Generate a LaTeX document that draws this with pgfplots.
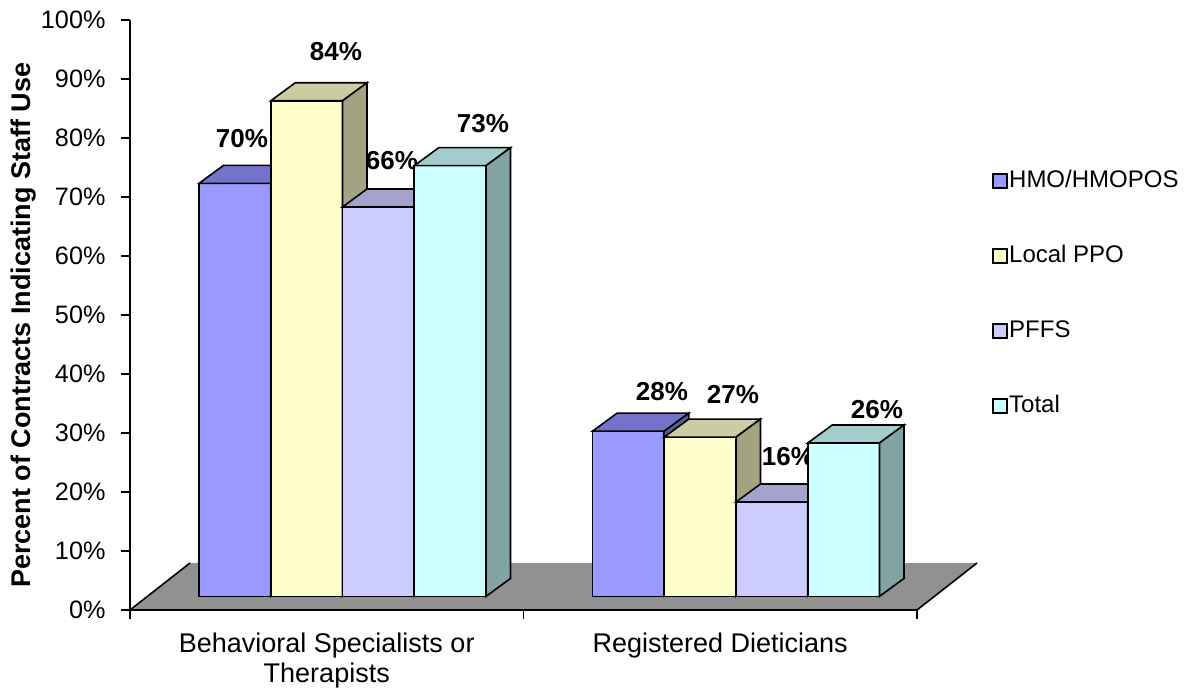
\documentclass[border=0pt]{standalone}
\usepackage{fontspec}
\setmainfont{Liberation Sans}
\usepackage{pgfplots}
\pgfplotsset{compat=1.18}
\usepackage{pgfplotstable}

\definecolor{hmoF}{HTML}{9999FF}\definecolor{hmoT}{HTML}{7373CC}\definecolor{hmoS}{HTML}{5C5CA3}
\definecolor{ppoF}{HTML}{FFFFCC}\definecolor{ppoT}{HTML}{CCCCA3}\definecolor{ppoS}{HTML}{A3A382}
\definecolor{pffsF}{HTML}{CCCCFF}\definecolor{pffsT}{HTML}{A3A3CC}\definecolor{pffsS}{HTML}{8282A3}
\definecolor{totF}{HTML}{CCFFFF}\definecolor{totT}{HTML}{A3CCCC}\definecolor{totS}{HTML}{82A3A3}
\definecolor{floorgray}{HTML}{919191}

% one table per series: category position, value (%), label position (axis units)
\pgfplotstableread{
cat v lx ly
0.5 70 0.2846 79.83
1.5 28 1.3520 36.95
}\hmo
\pgfplotstableread{
cat v lx ly
0.5 84 0.5235 94.58
1.5 27 1.5324 36.44
}\ppo
\pgfplotstableread{
cat v lx ly
0.5 66 0.6658 76.10
1.5 16 1.6722 25.93
}\pffs
\pgfplotstableread{
cat v lx ly
0.5 73 0.8971 82.37
1.5 26 1.8983 33.90
}\total

% 3-D bar drawn at each data point (front, top and side faces); height \barh
\newcommand\defbarmark[5]{%
\pgfdeclareplotmark{#1}{%
 \pgfsetlinewidth{0.8pt}\pgfsetstrokecolor{black}%
 \pgfsetfillcolor{#3}%
 \pgfpathrectangle{\pgfpoint{#2}{\dimexpr 6.8pt-\barh\relax}}{\pgfpoint{35.875pt}{\barh}}%
 \pgfusepath{fill,stroke}%
 \pgfsetfillcolor{#4}%
 \pgfpathmoveto{\pgfpoint{#2}{6.8pt}}%
 \pgfpathlineto{\pgfpoint{\dimexpr #2+12.25pt\relax}{15.8pt}}%
 \pgfpathlineto{\pgfpoint{\dimexpr #2+48.125pt\relax}{15.8pt}}%
 \pgfpathlineto{\pgfpoint{\dimexpr #2+35.875pt\relax}{6.8pt}}%
 \pgfpathclose
 \pgfusepath{fill,stroke}%
 \pgfsetfillcolor{#5}%
 \pgfpathmoveto{\pgfpoint{\dimexpr #2+35.875pt\relax}{6.8pt}}%
 \pgfpathlineto{\pgfpoint{\dimexpr #2+48.125pt\relax}{15.8pt}}%
 \pgfpathlineto{\pgfpoint{\dimexpr #2+48.125pt\relax}{\dimexpr 15.8pt-\barh\relax}}%
 \pgfpathlineto{\pgfpoint{\dimexpr #2+35.875pt\relax}{\dimexpr 6.8pt-\barh\relax}}%
 \pgfpathclose
 \pgfusepath{fill,stroke}%
}}
\defbarmark{barA}{-63.875pt}{hmoF}{hmoT}{hmoS}
\defbarmark{barB}{-28pt}{ppoF}{ppoT}{ppoS}
\defbarmark{barC}{7.875pt}{pffsF}{pffsT}{pffsS}
\defbarmark{barD}{43.75pt}{totF}{totT}{totS}
\def\barh{0pt}

\pgfplotsset{
 bar3d/.style={scatter, only marks, mark=#1, forget plot,
  point meta=explicit,
  scatter/@pre marker code/.code={%
    \begingroup
    \pgfkeys{/pgf/fpu=true,/pgf/fpu/output format=fixed}%
    \pgfmathparse{\pgfplotspointmeta*2.95}%
    \xdef\barh{\pgfmathresult pt}%
    \endgroup},
  scatter/@post marker code/.code={},
 },
 lab3d/.style={forget plot, draw=none, mark=none,
  point meta=explicit symbolic,
  nodes near coords={\pgfplotspointmeta\%},
  every node near coord/.style={font=\bfseries\fontsize{13}{15}\selectfont,
    anchor=center, text=black, inner sep=0pt},
 },
}

\begin{document}
\begin{tikzpicture}
\path[use as bounding box] (0pt,0pt) rectangle (594.5pt,348pt);
\begin{axis}[
 at={(65pt,43pt)}, anchor=south west,
 scale only axis, width=393.5pt, height=295pt,
 xmin=0, xmax=2, ymin=0, ymax=100,
 clip=false,
 axis x line*=bottom, axis y line*=left,
 axis line style={-, line width=0.8pt},
 tick align=outside, major tick length=4.75pt,
 tick style={black, line width=0.8pt},
 ytick={0,10,...,100},
 yticklabel={\pgfmathprintnumber{\tick}\%},
 /pgf/number format/assume math mode=true,
 yticklabel style={font=\fontsize{12.6}{14}\selectfont, anchor=east, xshift=-4pt},
 xtick={0,1,2}, xticklabels={,,},
 extra x ticks={0.5,1.5},
 extra x tick labels={{Behavioral Specialists or\\Therapists},{Registered Dieticians}},
 extra x tick style={major tick length=0pt, tick style={draw=none}},
 xticklabel style={align=center, font=\fontsize{13.5}{15}\selectfont, yshift=-8pt},
 ylabel={Percent of Contracts Indicating Staff Use},
 ylabel style={at={(axis description cs:-0.1347,0.483)}, anchor=center, font=\bfseries\fontsize{13.5}{15}\selectfont},
 legend cell align=left,
 legend style={draw=none, fill=none, at={(1.095,0.7495)}, anchor=north west,
   inner xsep=0pt, inner ysep=0pt, row sep=24.5pt,
   nodes={inner sep=0.5pt, text height=9pt, text depth=3pt},
   font=\fontsize{12}{14}\selectfont},
]
\fill[floorgray] (axis cs:0,0) -- (axis cs:2,0) -- ([shift={(30pt,23.5pt)}]axis cs:2,0) -- ([shift={(30pt,23.5pt)}]axis cs:0,0) -- cycle;
\draw[line width=0.8pt] (axis cs:0,0) -- ++(30pt,23.5pt);
\draw[line width=0.8pt] (axis cs:2,0) -- ++(30pt,23.5pt);
\draw[line width=0.8pt] (axis cs:0,0) -- (axis cs:2,0);

\addplot[bar3d=barA] table[x=cat,y=v,meta=v]{\hmo};
\addplot[lab3d] table[x=lx,y=ly,meta=v]{\hmo};
\addplot[bar3d=barB] table[x=cat,y=v,meta=v]{\ppo};
\addplot[lab3d] table[x=lx,y=ly,meta=v]{\ppo};
\addplot[bar3d=barC] table[x=cat,y=v,meta=v]{\pffs};
\addplot[lab3d] table[x=lx,y=ly,meta=v]{\pffs};
\addplot[bar3d=barD] table[x=cat,y=v,meta=v]{\total};
\addplot[lab3d] table[x=lx,y=ly,meta=v]{\total};

\addlegendimage{legend image code/.code={\draw[fill=hmoF,line width=1pt] (0pt,-3.5pt) rectangle (7pt,3.5pt);}}
\addlegendentry{HMO/HMOPOS}
\addlegendimage{legend image code/.code={\draw[fill=ppoF,line width=1pt] (0pt,-3.5pt) rectangle (7pt,3.5pt);}}
\addlegendentry{Local PPO}
\addlegendimage{legend image code/.code={\draw[fill=pffsF,line width=1pt] (0pt,-3.5pt) rectangle (7pt,3.5pt);}}
\addlegendentry{PFFS}
\addlegendimage{legend image code/.code={\draw[fill=totF,line width=1pt] (0pt,-3.5pt) rectangle (7pt,3.5pt);}}
\addlegendentry{Total}
\end{axis}
\end{tikzpicture}
\end{document}
